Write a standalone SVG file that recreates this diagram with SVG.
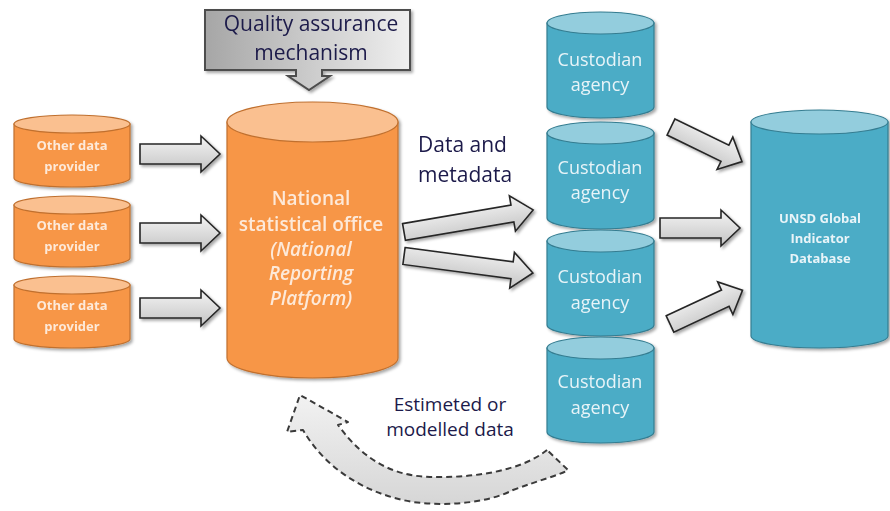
<svg xmlns="http://www.w3.org/2000/svg" width="890" height="511" viewBox="0 0 890 511">
<defs>
  <linearGradient id="arrowGrad" x1="0" y1="0" x2="0" y2="1">
    <stop offset="0" stop-color="#f4f4f4"/>
    <stop offset="1" stop-color="#c4c4c4"/>
  </linearGradient>
  <linearGradient id="qaGrad" x1="0" y1="0" x2="1" y2="0">
    <stop offset="0" stop-color="#a6a6a6"/>
    <stop offset="1" stop-color="#efefef"/>
  </linearGradient>
  <linearGradient id="curveGrad" x1="0" y1="0" x2="0" y2="1">
    <stop offset="0" stop-color="#f2f2f2"/>
    <stop offset="1" stop-color="#d6d6d6"/>
  </linearGradient>
  <filter id="shadow" x="-20%" y="-20%" width="140%" height="140%">
    <feDropShadow dx="2" dy="2" stdDeviation="1.5" flood-color="#000" flood-opacity="0.35"/>
  </filter>
  <style>
    .orange-body{fill:#f79646;stroke:#c0702f;stroke-width:1.2}
    .orange-top{fill:#fac090;stroke:#c0702f;stroke-width:1.2}
    .teal-body{fill:#4bacc6;stroke:#357d91;stroke-width:1.2}
    .teal-top{fill:#93cddd;stroke:#357d91;stroke-width:1.2}
    .arrow{fill:url(#arrowGrad);stroke:#262626;stroke-width:1.6;stroke-linejoin:miter}
    .lt{font-family:"Open Sans","Liberation Sans",sans-serif;fill:#fde9d9;text-anchor:middle}
    .wt{font-family:"Open Sans","Liberation Sans",sans-serif;fill:#e8f4f8;text-anchor:middle}
    .dk{font-family:"Open Sans","Liberation Sans",sans-serif;fill:#1c1a4a}
    .small{font-size:13px;font-weight:bold}
  </style>
</defs>

<g id="connectors">
  <g filter="url(#shadow)">
    <path class="arrow" transform="translate(140,154)" d="M0,-10 L61,-10 L61,-18 L80,0 L61,18 L61,10 L0,10 Z"/>
    <path class="arrow" transform="translate(140,233)" d="M0,-10 L61,-10 L61,-18 L80,0 L61,18 L61,10 L0,10 Z"/>
    <path class="arrow" transform="translate(140,308)" d="M0,-10 L61,-10 L61,-18 L80,0 L61,18 L61,10 L0,10 Z"/>
    <path class="arrow" transform="translate(404,232) rotate(-9.7)" d="M0,-8.5 L110,-8.5 L110,-18 L131,0 L110,18 L110,8.5 L0,8.5 Z"/>
    <path class="arrow" transform="translate(404,256) rotate(7.5)" d="M0,-8.5 L109,-8.5 L109,-18 L130,0 L109,18 L109,8.5 L0,8.5 Z"/>
    <path class="arrow" transform="translate(671,127) rotate(26)" d="M0,-9 L60,-9 L60,-18 L79,0 L60,18 L60,9 L0,9 Z"/>
    <path class="arrow" transform="translate(660,228)" d="M0,-10 L61,-10 L61,-18 L80,0 L61,18 L61,10 L0,10 Z"/>
    <path class="arrow" transform="translate(670,324) rotate(-25)" d="M0,-9 L61,-9 L61,-18 L80,0 L61,18 L61,9 L0,9 Z"/>
  </g>
  <path d="M547,450 C520,472 470,478 430,477 C395,476 365,462 338,425 L348,422 L300,395 L287,432 L303,430 C325,468 365,494 413,502 C450,507 490,502 513,490 C540,480 560,475 568,470 Z"
        fill="url(#curveGrad)" stroke="#3a3a3a" stroke-width="2" stroke-dasharray="6,4" stroke-linejoin="round"/>
</g>

<g id="quality-assurance" filter="url(#shadow)">
  <path d="M205,10 L410,10 L410,70 L322,70 L322,76 L330,76 L309,90 L288,76 L296,76 L296,70 L205,70 Z" fill="url(#qaGrad)" stroke="#4d4d4d" stroke-width="2"/>
  <text class="dk" x="311" y="31" font-size="21" text-anchor="middle">Quality assurance</text>
  <text class="dk" x="311" y="60" font-size="21" text-anchor="middle">mechanism</text>
</g>

<g id="provider-1" filter="url(#shadow)">
  <path class="orange-body" d="M14,124 L14,178 A58,9 0 0 0 130,178 L130,124 Z"/>
  <ellipse class="orange-top" cx="72" cy="124" rx="58" ry="9"/>
  <text class="lt small" x="72" y="150">Other data</text>
  <text class="lt small" x="72" y="171">provider</text>
</g>
<g id="provider-2" filter="url(#shadow)">
  <path class="orange-body" d="M14,205 L14,258 A58,9 0 0 0 130,258 L130,205 Z"/>
  <ellipse class="orange-top" cx="72" cy="205" rx="58" ry="9"/>
  <text class="lt small" x="72" y="230">Other data</text>
  <text class="lt small" x="72" y="251">provider</text>
</g>
<g id="provider-3" filter="url(#shadow)">
  <path class="orange-body" d="M14,285 L14,339 A58,9 0 0 0 130,339 L130,285 Z"/>
  <ellipse class="orange-top" cx="72" cy="285" rx="58" ry="9"/>
  <text class="lt small" x="72" y="310">Other data</text>
  <text class="lt small" x="72" y="331">provider</text>
</g>

<g id="nso" filter="url(#shadow)">
  <path class="orange-body" d="M227,122 L227,358 A85.5,20 0 0 0 398,358 L398,122 Z"/>
  <ellipse class="orange-top" cx="312.5" cy="122" rx="85.5" ry="20"/>
  <text class="lt" x="311" y="205" font-size="19" font-weight="600">National</text>
  <text class="lt" x="311" y="231" font-size="19" font-weight="600">statistical office</text>
  <text class="lt" x="311" y="256" font-size="19" font-weight="600" font-style="italic">(National</text>
  <text class="lt" x="311" y="280" font-size="19" font-weight="600" font-style="italic">Reporting</text>
  <text class="lt" x="311" y="305" font-size="19" font-weight="600" font-style="italic">Platform)</text>
</g>

<text class="dk" x="418" y="152" font-size="21">Data and</text>
<text class="dk" x="418" y="182" font-size="21">metadata</text>

<g id="custodian-1" filter="url(#shadow)">
  <path class="teal-body" d="M547,23 L547,107 A53.5,11 0 0 0 654,107 L654,23 Z"/>
  <ellipse class="teal-top" cx="600.5" cy="23" rx="53.5" ry="11"/>
  <text class="wt" x="600" y="66" font-size="18">Custodian</text>
  <text class="wt" x="600" y="91" font-size="18">agency</text>
</g>
<g id="custodian-2" filter="url(#shadow)">
  <path class="teal-body" d="M547,133 L547,218 A53.5,11 0 0 0 654,218 L654,133 Z"/>
  <ellipse class="teal-top" cx="600.5" cy="133" rx="53.5" ry="11"/>
  <text class="wt" x="600" y="174" font-size="18">Custodian</text>
  <text class="wt" x="600" y="199" font-size="18">agency</text>
</g>
<g id="custodian-3" filter="url(#shadow)">
  <path class="teal-body" d="M547,241 L547,325 A53.5,11 0 0 0 654,325 L654,241 Z"/>
  <ellipse class="teal-top" cx="600.5" cy="241" rx="53.5" ry="11"/>
  <text class="wt" x="600" y="283" font-size="18">Custodian</text>
  <text class="wt" x="600" y="309" font-size="18">agency</text>
</g>
<g id="custodian-4" filter="url(#shadow)">
  <path class="teal-body" d="M547,348 L547,432 A53.5,11 0 0 0 654,432 L654,348 Z"/>
  <ellipse class="teal-top" cx="600.5" cy="348" rx="53.5" ry="11"/>
  <text class="wt" x="600" y="388" font-size="18">Custodian</text>
  <text class="wt" x="600" y="414" font-size="18">agency</text>
</g>

<g id="unsd" filter="url(#shadow)">
  <path class="teal-body" d="M751,122 L751,336 A68.5,12 0 0 0 888,336 L888,122 Z"/>
  <ellipse class="teal-top" cx="819.5" cy="122" rx="68.5" ry="12"/>
  <text class="wt small" x="820" y="223">UNSD Global</text>
  <text class="wt small" x="820" y="243">Indicator</text>
  <text class="wt small" x="820" y="263">Database</text>
</g>

<text class="dk" x="450" y="411" font-size="19" text-anchor="middle">Estimeted or</text>
<text class="dk" x="450" y="436" font-size="19" text-anchor="middle">modelled data</text>
</svg>
